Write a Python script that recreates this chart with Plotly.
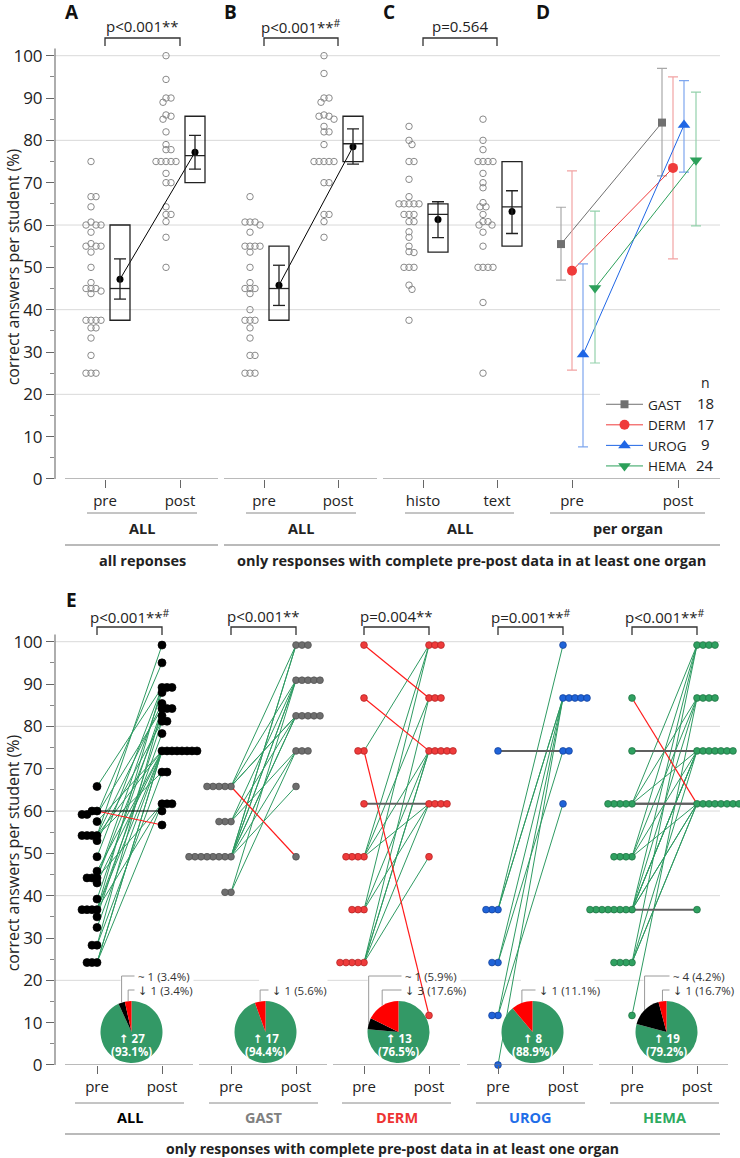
import numpy as np
import plotly.graph_objects as go

# ======================= DATA =======================
# Panels A-C: individual scores per student (%)
a_pre = [75, 66.7, 66.7, 64.3, 60, 60, 60, 60.7, 58.3, 55.6, 55, 55, 55, 53.6, 50, 46.4,
         45, 45, 45, 44.4, 43.8, 37.5, 37.5, 37.5, 37.5, 35.7, 35.7, 33.3, 29.2, 25, 25, 25]
a_post = [100, 94.4, 90, 90, 89, 86, 85.7, 85, 82, 79, 77.8, 77.8, 75, 75, 75, 75, 75,
          72.2, 70, 70, 64.3, 62.5, 62.5, 60.8, 57.1, 50]
b_pre = [66.7, 60.7, 60.7, 60.7, 60, 58.3, 55, 55, 55, 55, 53.6, 50, 46.4, 45, 45, 45,
         43.8, 40, 37.5, 37.5, 37.5, 35.7, 33.3, 29.2, 29.2, 25, 25, 25]
b_post = [100, 95.8, 90, 90, 89, 86, 85.7, 85.7, 85, 83.3, 82, 82, 79, 75, 75, 75, 75, 75,
          70, 70, 62.5, 62.5, 60.8, 57.1]
c_histo = [83.3, 80, 79, 75, 75, 70.8, 66.7, 65, 65, 65, 65, 65, 62.5, 62.5, 62.5, 60.8,
           60.8, 58.4, 57.1, 55, 53.7, 53.5, 50, 50, 50, 45.8, 44.8, 37.5]
c_text = [85, 80, 77.8, 75, 75, 75, 75, 72.2, 70, 68.8, 65.3, 64.3, 64.3, 62.5, 60.8, 60.8,
          60, 60, 58.3, 55, 50, 50, 50, 50, 41.7, 25]

top_categories = ["pre", "post", "pre", "post", "histo", "text", "pre", "post"]

# Box summaries (A pre, A post, B pre, B post, C histo, C text)
box_q1 = [37.5, 70.0, 37.5, 75.0, 53.6, 55.0]
box_median = [45.0, 76.4, 45.0, 79.2, 62.5, 64.3]
box_q3 = [60.0, 85.7, 55.0, 85.7, 65.0, 75.0]
box_mean = [47.2, 77.2, 45.8, 78.5, 61.3, 63.2]
box_ci_lo = [42.5, 73.2, 41.0, 74.4, 57.0, 58.0]
box_ci_hi = [52.0, 81.2, 50.5, 82.7, 65.5, 68.1]

# Panel D: per organ mean and error range
organs = ["GAST", "DERM", "UROG", "HEMA"]
organ_n = [18, 17, 9, 24]
d_pre_mean = [55.5, 49.2, 29.4, 45.1]
d_pre_lo = [47.0, 25.7, 7.6, 27.4]
d_pre_hi = [64.2, 72.8, 50.8, 63.3]
d_post_mean = [84.2, 73.5, 83.6, 75.3]
d_post_lo = [71.6, 52.0, 72.5, 59.8]
d_post_hi = [97.0, 95.0, 94.1, 91.4]

# Panel E: paired pre/post scores per student
e_groups = ["ALL", "GAST", "DERM", "UROG", "HEMA"]
e_all_pre = [65.8, 60.0, 60.0, 59.2, 59.2, 57.5, 54.2, 54.2, 54.2, 54.2, 53.0, 49.2, 45.8, 44.2,
             44.2, 44.2, 43.0, 39.2, 36.7, 36.7, 36.7, 36.7, 35.0, 32.5, 28.3, 28.3, 24.2, 24.2, 24.2]
e_all_post = [89.2, 60.0, 56.7, 95.0, 84.2, 74.2, 99.2, 85.4, 74.2, 69.2, 81.2, 89.2, 74.2, 88.0,
              82.5, 61.7, 74.2, 84.2, 89.2, 78.3, 74.2, 61.7, 81.2, 74.2, 84.2, 69.2, 74.2, 61.7, 74.2]
e_gast_pre = [65.8, 65.8, 65.8, 65.8, 65.8, 57.5, 57.5, 57.5, 49.2, 49.2, 49.2, 49.2, 49.2, 49.2,
              49.2, 49.2, 40.8, 40.8]
e_gast_post = [99.2, 49.2, 90.9, 82.5, 82.5, 90.9, 82.5, 74.2, 99.2, 99.2, 90.9, 90.9, 82.5, 82.5,
               74.2, 65.8, 90.9, 74.2]
e_derm_pre = [99.2, 86.7, 74.2, 74.2, 61.7, 49.2, 49.2, 49.2, 49.2, 36.7, 36.7, 36.7, 24.2, 24.2,
              24.2, 24.2, 24.2]
e_derm_post = [86.7, 74.2, 11.7, 99.2, 61.7, 99.2, 74.2, 61.7, 86.7, 99.2, 74.2, 61.7, 86.7, 74.2,
               74.2, 61.7, 49.2]
e_urog_pre = [74.2, 36.7, 36.7, 36.7, 24.2, 24.2, 11.7, 11.7, 0.0]
e_urog_post = [74.2, 99.2, 86.7, 86.7, 86.7, 74.2, 86.7, 61.7, 86.7]
e_hema_pre = [86.7, 74.2, 61.7, 61.7, 61.7, 61.7, 61.7, 49.2, 49.2, 49.2, 49.2, 36.7, 36.7, 36.7,
              36.7, 36.7, 36.7, 36.7, 36.7, 24.2, 24.2, 24.2, 24.2, 11.7]
e_hema_post = [61.7, 74.2, 61.7, 61.7, 99.2, 86.7, 74.2, 99.2, 86.7, 74.2, 61.7, 36.7, 99.2, 86.7,
               74.2, 74.2, 61.7, 61.7, 74.2, 99.2, 74.2, 61.7, 61.7, 86.7]

# Pie summaries (as printed)
pie_up = [27, 17, 13, 8, 19]
pie_same = [1, 0, 1, 0, 4]
pie_down = [1, 1, 3, 1, 1]
pie_same_label = ["~ 1 (3.4%)", None, "~ 1 (5.9%)", None, "~ 4 (4.2%)"]
pie_down_label = ["↓ 1 (3.4%)", "↓ 1 (5.6%)", "↓ 3 (17.6%)", "↓ 1 (11.1%)", "↓ 1 (16.7%)"]

p_top = ["p<0.001**", "p<0.001**#", "p=0.564"]
p_bottom = ["p<0.001**#", "p<0.001**", "p=0.004**", "p=0.001**#", "p<0.001**#"]

# ======================= LAYOUT GEOMETRY =======================
W, H = 740, 1158
PPU = 4.233           # pixels per percentage point
TOP_Y0 = 479.0        # pixel row of value 0 (top chart)
BOT_Y0 = 1065.0       # pixel row of value 0 (bottom chart)
YMAX = 104
X_LEFT = 55
FONT = "Open Sans, DejaVu Sans, sans-serif"
TXT = "#222222"


def px(x):
    return x / W


def py(y):
    return 1 - y / H


def ann(x, y, text, size, color=TXT, xanchor="center", xref="paper", **kw):
    d = dict(x=x, y=py(y), xref=xref, yref="paper", text=text, showarrow=False,
             xanchor=xanchor, yanchor="middle", borderpad=0,
             font=dict(size=size, color=color, family=FONT))
    d.update(kw)
    return d


TOP_TICK_X = [105, 180, 264, 338, 423, 497, 572, 678]
E_PRE_X = [97, 231, 364, 498, 632]
E_POST_X = [162, 296, 429, 563, 697]
SWARM_SHIFT, BOX_SHIFT, BOX_HALF, CAP_HALF = -14, 15, 10, 6
D_DODGE_PRE = [-11, 0, 11, 23]
D_DODGE_POST = [-16, -5, 6, 18]

organ_color = ["#707070", "#ef3b3b", "#1f66e5", "#2ca05a"]
organ_err = ["#a8a8a8", "#f2a3a3", "#7ea6ee", "#93d1ab"]
organ_symbol = ["square", "circle", "triangle-up", "triangle-down"]
organ_msize = [8, 10, 11, 11]

e_dot_color = ["#000000", "#6e6e6e", "#ee3b3b", "#1f63d8", "#2fa060"]
e_dot_edge = ["#000000", "#4d4d4d", "#b02020", "#123f96", "#1d7040"]
e_label_color = ["#000000", "#808080", "#ee3333", "#1f6ee8", "#2eaa60"]
UP_C, DOWN_C = "#2e9a62", "#ff1a1a"


def swarm_offsets(vals, step, min_dist, side):
    vals = np.asarray(vals, float)
    order = np.argsort(-vals, kind="stable")
    if side == 0:
        cands = [0.0]
        for k in range(1, 80):
            cands += [k * step, -k * step]
    else:
        cands = [side * k * step for k in range(80)]
    placed, offs = [], np.zeros(len(vals))
    for i in order:
        yv = vals[i] * PPU
        for c in cands:
            if all((c - a) ** 2 + (yv - b) ** 2 >= min_dist ** 2 - 1e-6 for a, b in placed):
                offs[i] = c
                placed.append((c, yv))
                break
    return offs


fig = go.Figure()
shapes, annots = [], []

# ---------------- grid lines ----------------
for yref in ["y", "y2"]:
    for g in range(20, 101, 20):
        shapes.append(dict(type="line", xref="paper", yref=yref, x0=px(X_LEFT), x1=px(720),
                           y0=g, y1=g, line=dict(color="#d9d9d9", width=1), layer="below"))

# ---------------- top: swarms + boxes ----------------
swarm_sets = [a_pre, a_post, b_pre, b_post, c_histo, c_text]
for i, vals in enumerate(swarm_sets):
    cx = TOP_TICK_X[i] + SWARM_SHIFT
    offs = swarm_offsets(vals, 1.0, 5.0, 0)
    fig.add_trace(go.Scatter(x=cx + offs, y=vals, mode="markers", xaxis="x", yaxis="y",
                             marker=dict(symbol="circle-open", size=6.5, color="#8a8a8a",
                                         line=dict(width=1)),
                             cliponaxis=False, showlegend=False, hoverinfo="skip"))
    bx = TOP_TICK_X[i] + BOX_SHIFT
    bl = dict(color="#222222", width=1.3)
    shapes.append(dict(type="rect", xref="x", yref="y", x0=bx - BOX_HALF, x1=bx + BOX_HALF,
                       y0=box_q1[i], y1=box_q3[i], line=bl))
    shapes.append(dict(type="line", xref="x", yref="y", x0=bx - BOX_HALF, x1=bx + BOX_HALF,
                       y0=box_median[i], y1=box_median[i], line=bl))
    shapes.append(dict(type="line", xref="x", yref="y", x0=bx, x1=bx,
                       y0=box_ci_lo[i], y1=box_ci_hi[i], line=bl))
    for v in (box_ci_lo[i], box_ci_hi[i]):
        shapes.append(dict(type="line", xref="x", yref="y", x0=bx - CAP_HALF, x1=bx + CAP_HALF,
                           y0=v, y1=v, line=bl))

for (i, j) in [(0, 1), (2, 3)]:
    fig.add_trace(go.Scatter(x=[TOP_TICK_X[i] + BOX_SHIFT, TOP_TICK_X[j] + BOX_SHIFT],
                             y=[box_mean[i], box_mean[j]], mode="lines+markers",
                             xaxis="x", yaxis="y", line=dict(color="#000", width=1),
                             marker=dict(color="#000", size=7), cliponaxis=False,
                             showlegend=False, hoverinfo="skip"))
fig.add_trace(go.Scatter(x=[TOP_TICK_X[4] + BOX_SHIFT, TOP_TICK_X[5] + BOX_SHIFT],
                         y=[box_mean[4], box_mean[5]], mode="markers", xaxis="x", yaxis="y",
                         marker=dict(color="#000", size=7), showlegend=False, hoverinfo="skip"))

# ---------------- top: panel D ----------------
for k, org in enumerate(organs):
    xs = [TOP_TICK_X[6] + D_DODGE_PRE[k], TOP_TICK_X[7] + D_DODGE_POST[k]]
    ys = [d_pre_mean[k], d_post_mean[k]]
    fig.add_trace(go.Scatter(
        x=xs, y=ys, mode="lines+markers", name=org, xaxis="x", yaxis="y",
        line=dict(color=organ_color[k], width=1),
        marker=dict(symbol=organ_symbol[k], size=organ_msize[k], color=organ_color[k]),
        error_y=dict(type="data", symmetric=False,
                     array=[d_pre_hi[k] - d_pre_mean[k], d_post_hi[k] - d_post_mean[k]],
                     arrayminus=[d_pre_mean[k] - d_pre_lo[k], d_post_mean[k] - d_post_lo[k]],
                     color=organ_err[k], thickness=1.2, width=5),
        cliponaxis=False, showlegend=True, hoverinfo="skip"))

# ---------------- bottom: panel E ----------------
e_pre_sets = [e_all_pre, e_gast_pre, e_derm_pre, e_urog_pre, e_hema_pre]
e_post_sets = [e_all_post, e_gast_post, e_derm_post, e_urog_post, e_hema_post]
for g in range(5):
    pre = np.array(e_pre_sets[g], float)
    post = np.array(e_post_sets[g], float)
    x0, x1 = E_PRE_X[g], E_POST_X[g]
    for mask, col, wid in [(post > pre, UP_C, 1.0), (post < pre, DOWN_C, 1.2),
                           (post == pre, "#000000" if g == 0 else "#606060", 1.2 if g == 0 else 2.0)]:
        lx, ly = [], []
        for a, b in zip(pre[mask], post[mask]):
            lx += [x0, x1, None]
            ly += [a, b, None]
        if lx:
            fig.add_trace(go.Scatter(x=lx, y=ly, mode="lines", xaxis="x2", yaxis="y2",
                                     line=dict(color=col, width=wid), showlegend=False,
                                     hoverinfo="skip"))
    step = 5.0 if g == 0 else 6.0
    size = 8 if g == 0 else 6.8
    for vals, base, side in [(pre, x0, -1), (post, x1, 1)]:
        offs = swarm_offsets(vals, step, step * 0.98, side)
        fig.add_trace(go.Scatter(x=base + offs, y=vals, mode="markers", xaxis="x2", yaxis="y2",
                                 marker=dict(size=size, color=e_dot_color[g],
                                             line=dict(color=e_dot_edge[g], width=0.7)),
                                 cliponaxis=False, showlegend=False, hoverinfo="skip"))

# ---------------- pies ----------------
R = 31
PIE_CY = 1032
for g in range(5):
    cx = (E_PRE_X[g] + E_POST_X[g]) / 2 + 2
    tot = pie_up[g] + pie_same[g] + pie_down[g]
    fig.add_trace(go.Pie(values=[pie_up[g], pie_same[g], pie_down[g]],
                         marker=dict(colors=["#339966", "#000000", "#ff0000"],
                                     line=dict(width=0)),
                         sort=False, direction="clockwise", rotation=0, textinfo="none",
                         hoverinfo="skip", showlegend=False,
                         domain=dict(x=[px(cx - R), px(cx + R)],
                                     y=[py(PIE_CY + R), py(PIE_CY - R)])))
    annots.append(ann(px(cx), PIE_CY + 6, f"<b>↑ {pie_up[g]}</b>", 11.5, "white"))
    annots.append(ann(px(cx), PIE_CY + 19, f"<b>({100 * pie_up[g] / tot:.1f}%)</b>", 11.5,
                      "white"))
    fr_same_end = (pie_up[g] + pie_same[g]) / tot
    fr_up = pie_up[g] / tot
    labels = []
    if pie_same_label[g]:
        labels.append((976, (fr_up + fr_same_end) / 2, pie_same_label[g]))
    labels.append((990, (fr_same_end + 1) / 2, pie_down_label[g]))
    xmin = min(cx + R * np.sin(2 * np.pi * f) for _, f, _ in labels)
    shapes.append(dict(type="rect", xref="paper", yref="paper", x0=px(xmin - 1), x1=px(cx + 62),
                       y0=py(998), y1=py(968), fillcolor="white", line=dict(width=0),
                       layer="below"))
    for ly_, frac, txt in labels:
        ang = 2 * np.pi * frac
        ex, ey = cx + R * np.sin(ang), PIE_CY - R * np.cos(ang)
        shapes.append(dict(type="path", xref="paper", yref="paper",
                           path=f"M {px(ex)},{py(ey)} L {px(ex)},{py(ly_)} L {px(cx + 3)},{py(ly_)}",
                           line=dict(color="#9a9a9a", width=1)))
        annots.append(ann(px(cx + 5), ly_, txt, 11.5, "#333333", xanchor="left"))

# ---------------- legend mask + n column ----------------
shapes.append(dict(type="rect", xref="paper", yref="paper", x0=px(600), x1=px(740),
                   y0=py(476), y1=py(372), fillcolor="white", line=dict(width=0), layer="below"))
LEG_STEP = 20.6
annots.append(ann(px(705), 382, "n", 14))
for k in range(4):
    annots.append(ann(px(705), 403 + LEG_STEP * k, str(organ_n[k]), 15))

# ---------------- axes decorations ----------------
AX_C = dict(color="#777777", width=1.2)
for yref in ["y", "y2"]:
    shapes.append(dict(type="line", xref="paper", yref=yref, x0=px(X_LEFT), x1=px(X_LEFT),
                       y0=0, y1=101.7, line=AX_C))
for a, b in [(65, 218), (224, 377), (383, 720)]:
    shapes.append(dict(type="line", xref="paper", yref="y", x0=px(a), x1=px(b), y0=0, y1=0,
                       line=AX_C))
for a, b in [(65, 193), (199, 327), (333, 460), (467, 593), (599, 728)]:
    shapes.append(dict(type="line", xref="paper", yref="y2", x0=px(a), x1=px(b), y0=0, y1=0,
                       line=AX_C))

UL = dict(color="#8a8a8a", width=1)
top_groups = [("ALL", 87, 197), ("ALL", 246, 356), ("ALL", 405, 514), ("per organ", 550, 705)]
for t, a, b in top_groups:
    shapes.append(dict(type="line", xref="paper", yref="paper", x0=px(a), x1=px(b),
                       y0=py(513), y1=py(513), line=UL))
    annots.append(ann(px((a + b) / 2), 528, f"<b>{t}</b>", 14.5))
for a, b in [(65, 218), (224, 720)]:
    shapes.append(dict(type="line", xref="paper", yref="paper", x0=px(a), x1=px(b),
                       y0=py(545), y1=py(545), line=AX_C))
annots.append(ann(px(142), 561, "<b>all reponses</b>", 14.5))
annots.append(ann(px(471), 561,
                  "<b>only responses with complete pre-post data in at least one organ</b>", 14.5))

for g in range(5):
    a, b = E_PRE_X[g] - 22, E_POST_X[g] + 22
    shapes.append(dict(type="line", xref="paper", yref="paper", x0=px(a), x1=px(b),
                       y0=py(1103), y1=py(1103), line=UL))
    annots.append(ann(px((a + b) / 2), 1117, f"<b>{e_groups[g]}</b>", 14.5, e_label_color[g]))
shapes.append(dict(type="line", xref="paper", yref="paper", x0=px(65), x1=px(720),
                   y0=py(1134), y1=py(1134), line=AX_C))
annots.append(ann(px(392), 1148,
                  "<b>only responses with complete pre-post data in at least one organ</b>", 14))

# ---------------- brackets and p values ----------------
BR = dict(color="#333333", width=1.3)


def fmt_p(t):
    return t.replace("#", "<sup>#</sup>")


for i, t in enumerate(p_top):
    a, b = TOP_TICK_X[2 * i], TOP_TICK_X[2 * i + 1]
    shapes.append(dict(type="path", xref="x", yref="paper",
                       path=f"M {a},{py(46)} L {a},{py(38)} L {b},{py(38)} L {b},{py(46)}", line=BR))
    annots.append(ann((a + b) / 2, 26, fmt_p(t), 15, xref="x"))
for g, t in enumerate(p_bottom):
    a, b = E_PRE_X[g], E_POST_X[g]
    shapes.append(dict(type="path", xref="x2", yref="paper",
                       path=f"M {a},{py(635)} L {a},{py(627)} L {b},{py(627)} L {b},{py(635)}",
                       line=BR))
    annots.append(ann((a + b) / 2, 616, fmt_p(t), 15, xref="x2"))

for letter, x, y in [("A", 72, 12), ("B", 231, 12), ("C", 389, 12), ("D", 543, 12), ("E", 71, 600)]:
    annots.append(ann(px(x), y, f"<b>{letter}</b>", 19, "#111111"))

for yc in [(TOP_Y0 + TOP_Y0 - 100 * PPU) / 2, (BOT_Y0 + BOT_Y0 - 100 * PPU) / 2]:
    annots.append(ann(px(13), yc, "correct answers per student (%)", 16, textangle=-90))

# ---------------- axes ----------------
yax = dict(range=[0, YMAX], tickmode="array", tickvals=list(range(0, 101, 10)),
           ticks="outside", ticklen=8, tickcolor="#666", tickwidth=1, showline=False,
           showgrid=False, zeroline=False, tickfont=dict(size=17, color=TXT, family=FONT),
           minor=dict(tickmode="array", tickvals=list(range(5, 100, 10)), ticks="outside",
                      ticklen=4, tickcolor="#888", showgrid=False),
           fixedrange=True, automargin=False)
xax = dict(range=[X_LEFT, W], domain=[px(X_LEFT), 1], ticks="outside", ticklen=8,
           tickcolor="#666", showline=False, showgrid=False, zeroline=False,
           tickfont=dict(size=15, color=TXT, family=FONT), tickmode="array",
           fixedrange=True, automargin=False)

fig.update_layout(
    template="none",
    width=W, height=H, autosize=False,
    margin=dict(l=0, r=0, t=0, b=0, pad=0),
    paper_bgcolor="white", plot_bgcolor="rgba(0,0,0,0)",
    font=dict(family=FONT, color=TXT),
    xaxis=dict(xax, anchor="y", tickvals=TOP_TICK_X, ticktext=top_categories),
    yaxis=dict(yax, anchor="x", domain=[py(TOP_Y0), py(TOP_Y0 - YMAX * PPU)]),
    xaxis2=dict(xax, anchor="y2", tickvals=E_PRE_X + E_POST_X,
                ticktext=["pre"] * 5 + ["post"] * 5),
    yaxis2=dict(yax, anchor="x2", domain=[py(BOT_Y0), py(BOT_Y0 - YMAX * PPU)]),
    shapes=shapes, annotations=annots,
    legend=dict(x=px(601), y=py(389), xanchor="left", yanchor="top", bgcolor="rgba(0,0,0,0)",
                font=dict(size=13.5, color=TXT, family=FONT), itemwidth=37, tracegroupgap=0),
    showlegend=True,
)

fig.write_html("out.html", config={"displayModeBar": False},
               post_script="document.body.style.margin='0';")
